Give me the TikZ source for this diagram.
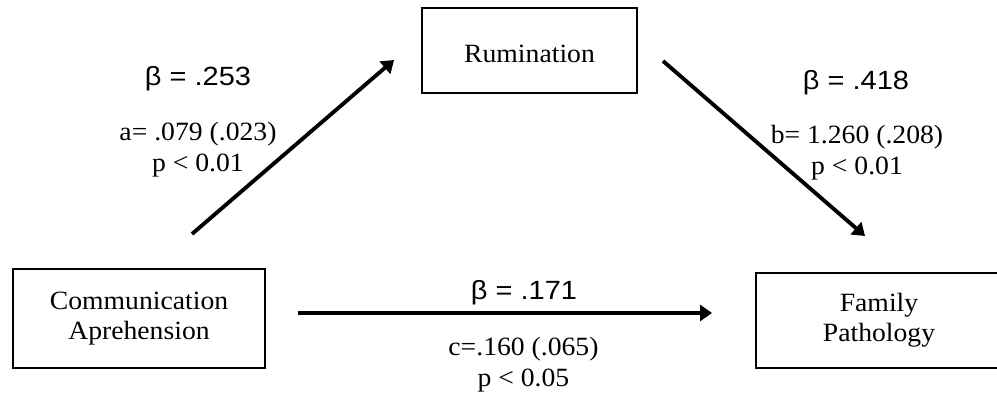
\documentclass[tikz,border=0pt]{standalone}
\usepackage{fontspec}
\setmainfont{Liberation Serif}[FakeStretch=1.05]
\newfontfamily\coeffont{Liberation Sans}[FakeStretch=1.1]
\usetikzlibrary{arrows.meta}

\begin{document}
\begin{tikzpicture}[
    x=0.02cm, y=-0.02cm,
    box/.style={draw, line width=1.5pt, align=center, inner sep=0pt, font=\fontsize{15pt}{17pt}\selectfont},
    arrow/.style={-{Triangle[length=0.24cm, width=0.32cm]}, line width=2.2pt},
    beta/.style={anchor=base, inner sep=0pt, font=\coeffont\fontsize{15pt}{17pt}\selectfont},
    stat/.style={align=center, inner sep=0pt, font=\fontsize{15pt}{18pt}\selectfont}
]
    \useasboundingbox (0,0) rectangle (997,394);

    % Variables
    \node[box, minimum width=5.04cm, minimum height=1.98cm] (comm) at (139,318.5) {Communication\\Aprehension};
    \node[box, minimum width=4.3cm, minimum height=1.7cm, text height=0.5cm, text depth=0pt] (rum) at (529.5,50.5) {Rumination};
    \node[box, minimum width=4.92cm, minimum height=1.9cm] (fam) at (879,320.5) {Family\\Pathology};

    % Arrow ends
    \coordinate (a-tail) at (192,234);
    \coordinate (a-head) at (394,60);
    \coordinate (b-tail) at (663,61);
    \coordinate (b-head) at (865,236);
    \coordinate (c-tail) at (298,313);
    \coordinate (c-head) at (712,313);

    % Paths
    \draw[arrow] (a-tail) -- (a-head);
    \draw[arrow] (b-tail) -- (b-head);
    \draw[arrow] (c-tail) -- (c-head);

    % Coefficients
    \node[beta] (beta-a) at (198,86) {β = .253};
    \node[stat] (stat-a) at (198,149.5) {a= .079 (.023)\\p < 0.01};
    \node[beta] (beta-b) at (856,90) {β = .418};
    \node[stat] (stat-b) at (857,152.5) {b= 1.260 (.208)\\p < 0.01};
    \node[beta] (beta-c) at (524,300) {β = .171};
    \node[stat] (stat-c) at (523.5,364.5) {c=.160 (.065)\\p < 0.05};
\end{tikzpicture}
\end{document}
